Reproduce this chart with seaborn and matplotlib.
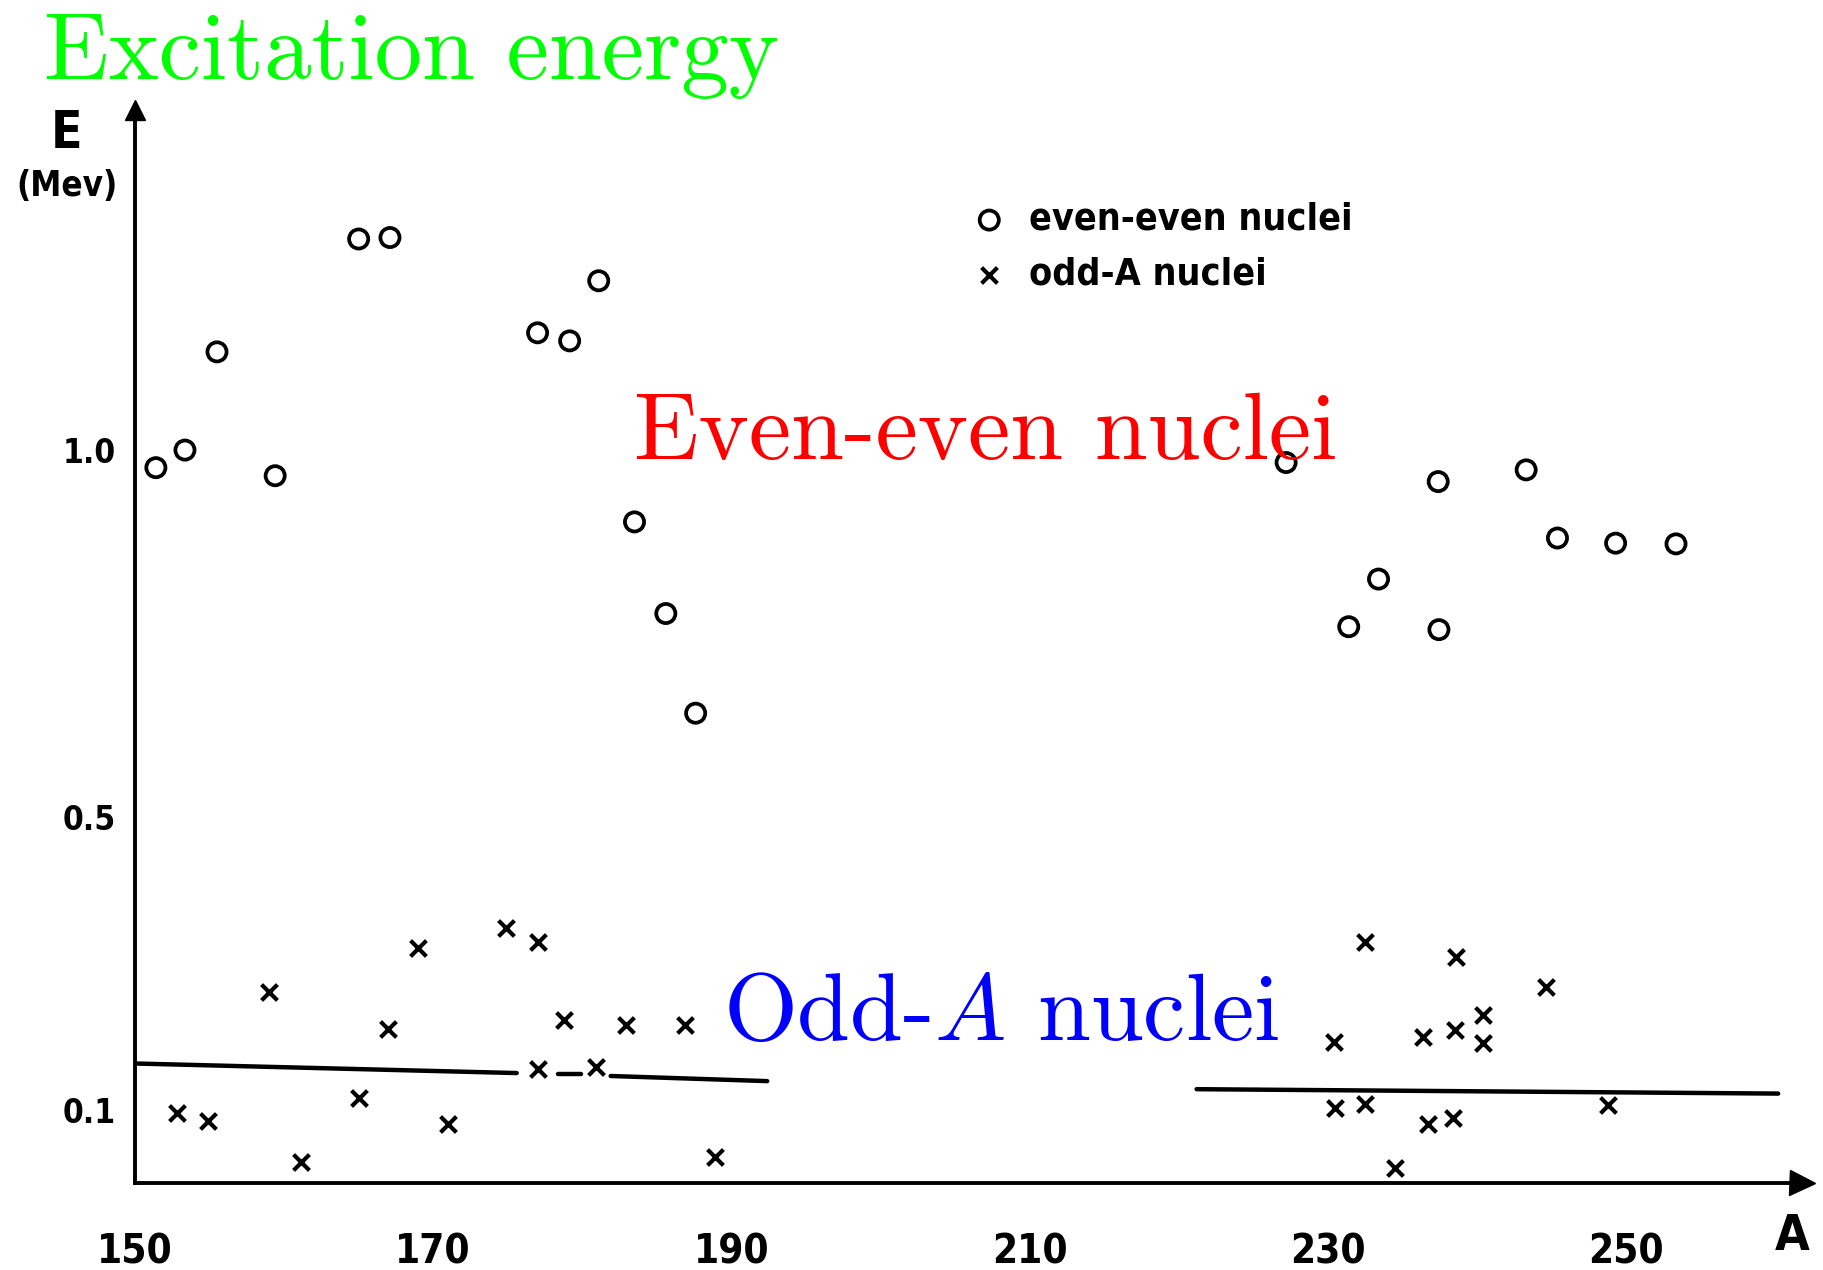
import numpy as np
import pandas as pd
import seaborn as sns
import matplotlib.pyplot as plt

# even-even nuclei (mass number A, excitation energy in MeV)
ee_A = [151.4, 153.35, 155.5, 159.4, 165.0, 167.1, 177.0, 179.15, 181.1, 183.5, 185.6, 187.6,
        227.2, 231.4, 233.4, 237.4, 237.45, 243.3, 245.4, 249.3, 253.35]
ee_E = [0.976, 1.0, 1.134, 0.965, 1.288, 1.29, 1.16, 1.149, 1.231, 0.902, 0.777, 0.641,
        0.983, 0.759, 0.824, 0.957, 0.755, 0.973, 0.88, 0.873, 0.872]

# odd-A nuclei
odd_A = [152.8, 154.9, 159.0, 161.1, 165.0, 167.0, 169.0, 171.0, 174.9, 177.0, 177.0, 178.8,
         180.9, 182.9, 186.9, 188.9,
         230.4, 230.5, 232.5, 232.5, 234.5, 236.4, 236.7, 238.5, 238.4, 238.6, 240.4, 240.4,
         244.6, 248.8]
odd_E = [0.095, 0.085, 0.261, 0.028, 0.116, 0.210, 0.321, 0.081, 0.348, 0.329, 0.155, 0.223,
         0.158, 0.215, 0.215, 0.036,
         0.193, 0.103, 0.329, 0.108, 0.021, 0.199, 0.081, 0.209, 0.089, 0.309, 0.229, 0.191,
         0.267, 0.106]

# hand drawn reference lines (segments)
line_segs = [
    ([150.1, 175.6], [0.163, 0.150]),
    ([178.4, 179.9], [0.149, 0.149]),
    ([181.9, 192.4], [0.146, 0.139]),
    ([221.2, 260.2], [0.128, 0.122]),
]

x_ticks = [150, 170, 190, 210, 230, 250]
y_ticks = [0.1, 0.5, 1.0]
y_ticklabels = ['0.1', '0.5', '1.0']

sns.set_style('white')
plt.rcParams['font.family'] = ['DejaVu Sans']
plt.rcParams['font.stretch'] = 'condensed'
plt.rcParams['mathtext.fontset'] = 'cm'
plt.rcParams['text.color'] = 'k'
plt.rcParams['xtick.color'] = 'k'
plt.rcParams['ytick.color'] = 'k'

W, H = 1823, 1270
fig = plt.figure(figsize=(W / 100, H / 100), dpi=100)
ax = fig.add_axes([135 / W, 1 - 1183 / H, (1802 - 135) / W, (1183 - 110) / H])

ee = pd.DataFrame({'A': ee_A, 'E': ee_E})
odd = pd.DataFrame({'A': odd_A, 'E': odd_E})

sns.scatterplot(data=ee, x='A', y='E', ax=ax, marker='o', s=190, facecolors='none',
                edgecolor='k', linewidth=2.7, label='even-even nuclei', clip_on=False)
sns.scatterplot(data=odd, x='A', y='E', ax=ax, marker='x', s=130, color='k',
                linewidth=3.0, label='odd-A nuclei', clip_on=False)

for xs, ys in line_segs:
    ax.plot(xs, ys, color='k', lw=3.2, solid_capstyle='round')

ax.set_xlim(150, 261.8)
ax.set_ylim(0, 1.464)
for s in ['top', 'right']:
    ax.spines[s].set_visible(False)
for s in ['left', 'bottom']:
    ax.spines[s].set_linewidth(2.8)
    ax.spines[s].set_color('k')

ax.plot(1, 0, '>k', ms=18, transform=ax.transAxes, clip_on=False)
ax.plot(0, 1, '^k', ms=14, transform=ax.transAxes, clip_on=False)

ax.set_xticks(x_ticks)
ax.set_xticklabels([str(t) for t in x_ticks], fontsize=29, fontweight='bold')
ax.tick_params(axis='x', direction='in', length=13, width=2.5, pad=36)
ax.set_yticks(y_ticks)
ax.set_yticklabels(y_ticklabels, fontsize=24, fontweight='bold')
ax.tick_params(axis='y', direction='out', length=8, width=2.5, pad=6)
ax.set_xlabel('')
ax.set_ylabel('')

leg = ax.legend(loc='upper left', bbox_to_anchor=((918 - 135) / (1802 - 135), 1.025 - (195 - 110) / (1183 - 110)),
                frameon=False, handletextpad=0.05, labelspacing=0.5,
                prop={'weight': 'bold', 'size': 27, 'stretch': 'condensed'})

fig.text(67 / W, 1 - 148 / H, 'E', fontsize=37, fontweight='bold', ha='center', va='baseline')
fig.text(67 / W, 1 - 196 / H, '(Mev)', fontsize=25, fontweight='bold', ha='center', va='baseline')
fig.text(1792 / W, 1 - 1250 / H, 'A', fontsize=36, fontweight='bold', ha='center', va='baseline')

fig.text(44 / W, 1 - 79 / H, 'Excitation energy', family='cmr10', fontsize=68.5,
         color='#00ff00', va='baseline')
fig.text(634 / W, 1 - 459 / H, 'Even-even nuclei', family='cmr10', fontsize=68.5,
         color='#ff0000', va='baseline')
fig.text(723 / W, 1 - 1040 / H, 'Odd-$A$ nuclei', family='cmr10', fontsize=68.5,
         color='#0000ff', va='baseline')

fig.savefig('out.png', dpi=100, facecolor='white')
